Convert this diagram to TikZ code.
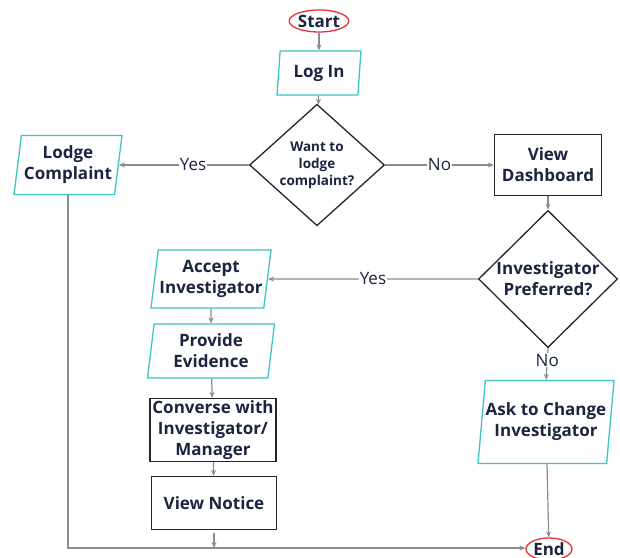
\documentclass[tikz,border=0pt]{standalone}
\usepackage{fontspec}
\setmainfont{Open Sans}
\usetikzlibrary{shapes.geometric,arrows.meta}
\definecolor{ink}{HTML}{1B2440}
\definecolor{termred}{HTML}{E8333A}
\definecolor{iocyan}{HTML}{3EC3C6}
\definecolor{linegray}{HTML}{8C8C8C}

\begin{document}
\begin{tikzpicture}[x=1pt,y=-1pt,
every node/.style = {text=ink, align=center, font=\fontsize{17}{21}\selectfont\bfseries},
startstop/.style = {ellipse, draw=termred, line width=1.3pt, inner sep=0pt},
io/.style = {trapezium, trapezium left angle=79, trapezium right angle=101,
    trapezium stretches body, draw=iocyan, line width=1.3pt, inner sep=0pt},
process/.style = {rectangle, draw=black!85, line width=1.3pt, inner sep=0pt},
decision/.style = {diamond, draw=black!85, line width=1.3pt, inner sep=0pt},
line/.style = {draw=linegray, line width=1.2pt, -{Stealth[length=6pt,width=5pt]}},
answer/.style = {fill=white, inner sep=1pt, font=\fontsize{17}{21}\selectfont}]
\useasboundingbox (0,0) rectangle (620,557);

% terminals
\node[startstop, minimum width=52, minimum height=22] (start) at (319,21) {Start};
\node[startstop, minimum width=46, minimum height=22] (end) at (549,549) {End};

% main column
\node[io, minimum width=84, minimum height=44] (login) at (319,73) {Log In};
\node[decision, minimum width=135, minimum height=114,
    font=\fontsize{13.5}{17}\selectfont\bfseries] (lodgeq) at (317,165) {Want to\\lodge\\complaint?};
\node[io, minimum width=108, minimum height=59] (lodge) at (68,165) {Lodge\\Complaint};
\node[process, minimum width=107, minimum height=61] (dash) at (548,165) {View\\Dashboard};
\node[decision, minimum width=139, minimum height=115] (prefq) at (548,279) {Investigator\\Preferred?};

% left branch
\node[io, minimum width=120, minimum height=58] (accept) at (211,279) {Accept\\Investigator};
\node[io, minimum width=127, minimum height=54] (evidence) at (211,351) {Provide\\Evidence};
\node[process, minimum width=126, minimum height=63] (converse) at (213,430) {Converse with\\Investigator/\\Manager};
\node[process, minimum width=125, minimum height=53] (notice) at (214,503) {View Notice};

% right branch
\node[io, minimum width=136, minimum height=83] (change) at (546,422) {Ask to Change\\Investigator};

% connectors
\draw[line] (start) -- (login);
\draw[line] (login) -- (lodgeq);
\draw[line] (lodgeq.west) -- node[answer, pos=0.43] {Yes} (lodge.east);
\draw[line] (lodgeq.east) -- node[answer] {No} (dash.west);
\draw[line] (dash) -- (prefq);
\draw[line] (prefq.west) -- node[answer] {Yes} (accept.east);
\draw[line] (accept) -- (evidence);
\draw[line] (evidence) -- (converse);
\draw[line] (converse) -- (notice);
\draw[line] (prefq.south) -- node[answer, pos=0.38] {No} (change.north);
\draw[line] (change) -- (end);
\draw[line] (lodge.south) |- ([yshift=1pt]end.west);
\draw[line] ([yshift=-3pt]notice.south) -- ([yshift=1pt]notice.south |- end.west);
\end{tikzpicture}
\end{document}
